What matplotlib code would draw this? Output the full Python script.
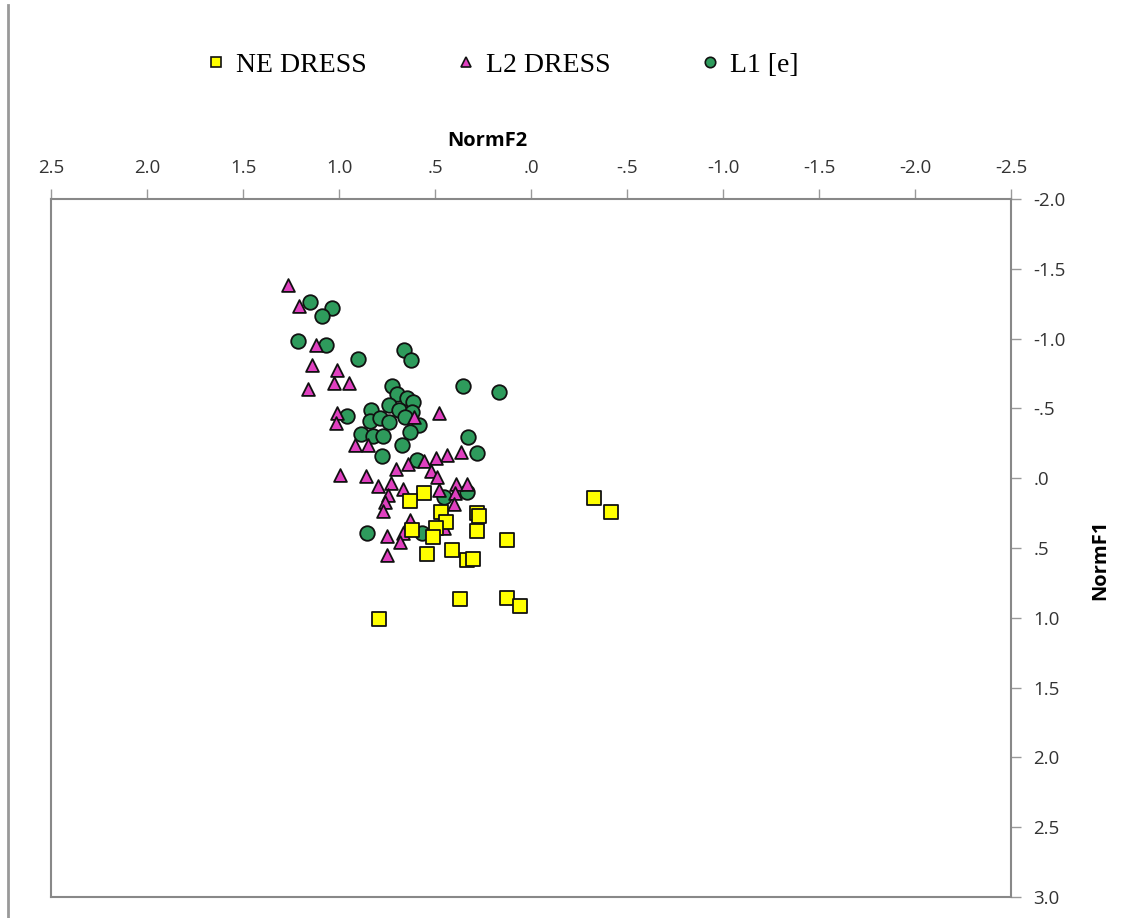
import matplotlib
matplotlib.use("Agg")
import matplotlib.pyplot as plt
from matplotlib.lines import Line2D
from matplotlib.ticker import FixedLocator, FuncFormatter

# ---- data (NormF2 = x, NormF1 = y) ----
ne_f2 = [0.557, 0.630, 0.469, 0.281, 0.271, 0.443, 0.620, 0.495, 0.510, 0.281,
         0.125, 0.542, 0.411, 0.333, 0.302, 0.370, 0.125, 0.057, 0.792, -0.328, -0.417]
ne_f1 = [0.106, 0.163, 0.242, 0.249, 0.271, 0.314, 0.371, 0.357, 0.421, 0.378,
         0.443, 0.543, 0.514, 0.586, 0.579, 0.865, 0.858, 0.915, 1.009, 0.142, 0.242]

l2_f2 = [1.266, 1.208, 1.120, 1.141, 1.010, 1.026, 0.948, 1.161, 1.010, 1.016,
         0.479, 0.609, 0.917, 0.849, 0.365, 0.438, 0.495, 0.557, 0.641, 0.703,
         0.995, 0.859, 0.521, 0.490, 0.797, 0.729, 0.667, 0.391, 0.333, 0.479,
         0.396, 0.745, 0.760, 0.401, 0.771, 0.630, 0.453, 0.750, 0.667, 0.682, 0.750]
l2_f1 = [-1.384, -1.234, -0.954, -0.811, -0.775, -0.682, -0.682, -0.639, -0.467, -0.395,
         -0.467, -0.438, -0.238, -0.238, -0.188, -0.166, -0.145, -0.123, -0.102, -0.066,
         -0.023, -0.016, -0.052, -0.009, 0.056, 0.034, 0.077, 0.042, 0.042, 0.085,
         0.106, 0.120, 0.171, 0.185, 0.235, 0.299, 0.357, 0.414, 0.393, 0.457, 0.550]

l1_f2 = [1.151, 1.036, 1.089, 1.214, 1.068, 0.661, 0.625, 0.901, 0.724, 0.354,
         0.167, 0.698, 0.646, 0.615, 0.740, 0.688, 0.833, 0.620, 0.958, 0.839,
         0.786, 0.740, 0.656, 0.583, 0.630, 0.885, 0.823, 0.771, 0.672, 0.328,
         0.281, 0.776, 0.594, 0.333, 0.453, 0.854, 0.568]
l1_f1 = [-1.262, -1.219, -1.162, -0.983, -0.954, -0.918, -0.847, -0.854, -0.660, -0.660,
         -0.617, -0.603, -0.575, -0.546, -0.524, -0.489, -0.489, -0.474, -0.446, -0.410,
         -0.431, -0.403, -0.438, -0.381, -0.331, -0.317, -0.302, -0.302, -0.238, -0.295,
         -0.181, -0.159, -0.130, 0.099, 0.135, 0.393, 0.393]

x_ticks = [2.5, 2.0, 1.5, 1.0, 0.5, 0.0, -0.5, -1.0, -1.5, -2.0, -2.5]
y_ticks = [-2.0, -1.5, -1.0, -0.5, 0.0, 0.5, 1.0, 1.5, 2.0, 2.5, 3.0]
series_names = ["NE DRESS", "L2 DRESS", "L1 [e]"]

W, H = 1139, 918
fig = plt.figure(figsize=(W / 100, H / 100), dpi=100)
ax = fig.add_axes([51 / W, 1 - 897 / H, (1011 - 51) / W, (897 - 199) / H])

ec = "#111111"
ax.scatter(l1_f2, l1_f1, marker="o", s=110, c="#2e9b5c", edgecolors=ec, linewidths=1.3, zorder=3)
ax.scatter(l2_f2, l2_f1, marker="^", s=85, c="#e040c0", edgecolors=ec, linewidths=1.3, zorder=4)
ax.scatter(ne_f2, ne_f1, marker="s", s=95, c="#ffff00", edgecolors=ec, linewidths=1.3, zorder=5)

ax.set_xlim(2.5, -2.5)
ax.set_ylim(3.0, -2.0)


def fmt(v, pos=None):
    s = f"{v:.1f}"
    if s.startswith("0."):
        s = s[1:]
    elif s.startswith("-0."):
        s = "-" + s[2:]
    return s


ax.xaxis.set_major_locator(FixedLocator(x_ticks))
ax.yaxis.set_major_locator(FixedLocator(y_ticks))
ax.xaxis.set_major_formatter(FuncFormatter(fmt))
ax.yaxis.set_major_formatter(FuncFormatter(fmt))
ax.xaxis.tick_top()
ax.yaxis.tick_right()
ax.tick_params(axis="both", direction="out", length=7, width=1, color="#999999",
               labelsize=13.5, labelcolor="#333333")
ax.tick_params(axis="x", pad=9)
ax.tick_params(axis="y", pad=9)
for lab in ax.get_xticklabels() + ax.get_yticklabels():
    lab.set_fontfamily(["Open Sans", "DejaVu Sans"])
for sp in ax.spines.values():
    sp.set_color("#888888")
    sp.set_linewidth(1.5)

fig.text(487 / W, 1 - 141 / H, "NormF2", ha="center", va="center", fontsize=14.5,
         fontweight="bold", family=["Open Sans", "DejaVu Sans"])
fig.text(1100 / W, 1 - 560 / H, "NormF1", ha="center", va="center", fontsize=14.5,
         fontweight="bold", rotation=90, family=["Open Sans", "DejaVu Sans"])

handles = [
    Line2D([], [], marker="s", ls="none", markersize=7.5, markerfacecolor="#ffff00", markeredgecolor=ec, markeredgewidth=1.2),
    Line2D([], [], marker="^", ls="none", markersize=7.5, markerfacecolor="#e040c0", markeredgecolor=ec, markeredgewidth=1.2),
    Line2D([], [], marker="o", ls="none", markersize=7.5, markerfacecolor="#2e9b5c", markeredgecolor=ec, markeredgewidth=1.2),
]
fig.legend(handles, series_names, loc="center", bbox_to_anchor=(503 / W, 1 - 65 / H), ncol=3,
           frameon=False, prop={"family": "Liberation Serif", "size": 20},
           handlelength=0.6, handletextpad=0.4, columnspacing=3.3)

fig.add_artist(Line2D([8 / W, 8 / W], [1 - 5 / H, 0], transform=fig.transFigure,
                      color="#999999", linewidth=2))

fig.savefig("out.png", dpi=100, facecolor="white")
